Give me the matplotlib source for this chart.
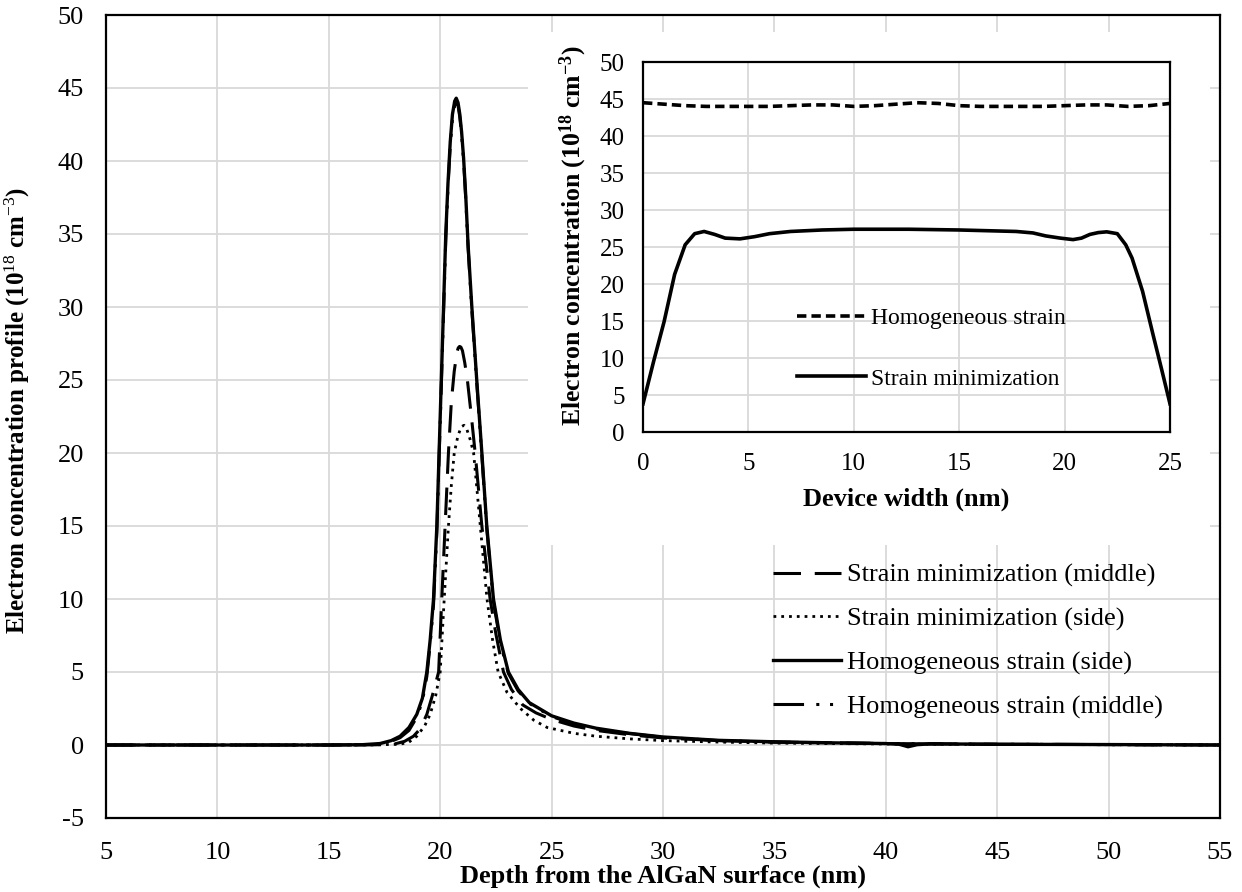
import numpy as np
import matplotlib
matplotlib.use("Agg")
import matplotlib.pyplot as plt

plt.rcParams['font.family'] = ['Liberation Serif', 'DejaVu Serif']
plt.rcParams['mathtext.fontset'] = 'custom'
plt.rcParams['mathtext.rm'] = 'Liberation Serif'
plt.rcParams['mathtext.bf'] = 'Liberation Serif:bold'
plt.rcParams['mathtext.it'] = 'Liberation Serif:italic'
plt.rcParams['axes.unicode_minus'] = False

# Main chart: depth profiles (depth in nm, concentration in 1e18 cm^-3)
depth_sm_mid = [5, 10, 15, 17, 17.9, 18.4, 18.8, 19.1, 19.4, 19.65, 19.93, 20.07, 20.22,
                20.37, 20.5, 20.63, 20.75, 20.81, 20.87, 20.93, 21.0, 21.1, 21.22, 21.4,
                21.57, 21.87, 22.24, 22.5, 22.84, 23.2, 23.7, 24.3, 25, 26, 27, 28.5, 30,
                32.5, 35, 40, 45, 50, 55]
conc_sm_mid = [0, 0, 0, 0.01, 0.05, 0.25, 0.6, 1.1, 2.1, 3.4, 5, 10, 15,
               20, 23.5, 25.6, 26.9, 27.2, 27.3, 27.25, 27.0, 26.2, 25, 22.5,
               20, 15, 10, 7.6, 5, 3.8, 2.75, 2.2, 1.75, 1.3, 1.0, 0.7, 0.48,
               0.3, 0.2, 0.1, 0.05, 0.03, 0]

depth_sm_side = [5, 10, 15, 17, 18.2, 18.6, 18.95, 19.3, 19.55, 19.8, 20.0, 20.18, 20.37,
                 20.5, 20.63, 20.8, 20.95, 21.07, 21.2, 21.35, 21.5, 21.8, 22.1, 22.35,
                 22.6, 23.0, 23.6, 24.2, 24.8, 26, 27, 28.5, 30, 32.5, 35, 40, 45, 50, 55]
conc_sm_side = [0, 0, 0, 0.01, 0.05, 0.2, 0.6, 1.3, 2.1, 3.4, 5, 10, 15,
                17.8, 20, 21.2, 21.8, 21.9, 21.6, 20.9, 20, 15, 10, 7.2,
                5, 3.6, 2.5, 1.7, 1.2, 0.8, 0.6, 0.42, 0.3, 0.2, 0.13, 0.07, 0.04, 0.02, 0]

depth_hs_side = [5, 10, 15, 16.5, 17.3, 17.8, 18.2, 18.6, 18.95, 19.2, 19.4, 19.55, 19.7,
                 19.85, 19.95, 20.05, 20.15, 20.25, 20.35, 20.45, 20.55, 20.65, 20.72,
                 20.8, 20.88, 20.96, 21.05, 21.15, 21.25, 21.42, 21.64, 21.87, 22.09,
                 22.39, 22.7, 23.06, 23.5, 24.0, 25, 26, 27, 28.5, 30, 32.5, 35, 37.5,
                 40, 40.6, 41.0, 41.4, 42, 45, 50, 55]
conc_hs_side = [0, 0, 0, 0.02, 0.1, 0.3, 0.6, 1.2, 2.1, 3.2, 5.0, 7.2, 10,
                15, 20, 25, 30, 35, 38.5, 41.3, 43.2, 44.1, 44.3,
                44.0, 43.2, 42.0, 40.2, 37.5, 34.3, 30, 25, 20, 15,
                10, 7.2, 5.0, 3.8, 2.9, 2.0, 1.5, 1.15, 0.8, 0.55, 0.32, 0.22, 0.15,
                0.1, 0.05, -0.12, 0.02, 0.08, 0.05, 0.03, 0]

depth_hs_mid = [5, 10, 15, 16.5, 17.3, 17.8, 18.2, 18.6, 18.95, 19.2, 19.4, 19.55, 19.7,
                19.85, 19.95, 20.05, 20.15, 20.25, 20.35, 20.45, 20.55, 20.65, 20.72,
                20.8, 20.88, 20.96, 21.05, 21.15, 21.25, 21.42, 21.64, 21.87, 22.09,
                22.39, 22.7, 23.06, 23.5, 24.0, 25, 26, 27, 28.5, 30, 32.5, 35, 40,
                45, 50, 55]
conc_hs_mid = [0, 0, 0, 0.01, 0.08, 0.25, 0.5, 1.0, 1.9, 3.0, 4.7, 6.9, 9.6,
               14.6, 19.6, 24.6, 29.6, 34.6, 38.2, 41.0, 42.9, 43.8, 44.0,
               43.8, 43.0, 41.8, 40.0, 37.3, 34.1, 29.8, 24.8, 19.8, 14.8,
               9.8, 7.0, 4.9, 3.7, 2.85, 1.95, 1.45, 1.1, 0.78, 0.53, 0.3, 0.2, 0.1,
               0.05, 0.03, 0]

# Inset: concentration across device width
width_hom = [0, 1, 2, 3, 4, 5, 6, 7, 8, 9, 10, 11, 12, 13, 14, 15, 16, 17, 18, 19, 20,
             21, 22, 23, 24, 25]
conc_hom = [44.5, 44.3, 44.1, 44.0, 44.0, 44.0, 44.0, 44.1, 44.2, 44.2, 44.0, 44.1, 44.3,
            44.5, 44.4, 44.1, 44.0, 44.0, 44.0, 44.0, 44.1, 44.2, 44.2, 44.0, 44.1, 44.4]

width_min = [0, 0.5, 1.0, 1.5, 2.0, 2.45, 2.9, 3.4, 3.9, 4.6, 5.3, 6.0, 7.0, 8.5, 10,
             12.6, 15, 17.7, 18.5, 19.1, 19.8, 20.4, 20.8, 21.2, 21.6, 22.0, 22.5,
             22.9, 23.2, 23.7, 24.2, 24.6, 25]
conc_min = [3.8, 9.5, 14.9, 21.3, 25.3, 26.8, 27.1, 26.7, 26.2, 26.1, 26.4, 26.8, 27.1,
            27.3, 27.4, 27.4, 27.3, 27.1, 26.9, 26.5, 26.2, 26.0, 26.2, 26.7, 26.95,
            27.05, 26.8, 25.3, 23.5, 19.0, 13.1, 8.5, 3.8]

W, H = 1242, 892
fig = plt.figure(figsize=(W / 100, H / 100), dpi=100)

def rect(x0, y0, x1, y1):
    return [x0 / W, 1 - y1 / H, (x1 - x0) / W, (y1 - y0) / H]

grid_c = '#d9d9d9'

ax = fig.add_axes(rect(106, 15, 1220, 818))
ax.plot(depth_hs_mid, conc_hs_mid, color='black', lw=2.2,
        linestyle=(0, (10, 4, 1, 3.5, 1, 4)), label='Homogeneous strain (middle)', zorder=2)
ax.plot(depth_sm_mid, conc_sm_mid, color='black', lw=2.2,
        linestyle=(0, (9, 4.5)), label='Strain minimization (middle)', zorder=3)
ax.plot(depth_sm_side, conc_sm_side, color='black', lw=2.0,
        linestyle=(0, (1, 1.8)), label='Strain minimization (side)', zorder=3)
ax.plot(depth_hs_side, conc_hs_side, color='black', lw=2.4,
        linestyle='-', label='Homogeneous strain (side)', zorder=4)

ax.set_xlim(5, 55)
ax.set_ylim(-5, 50)
ax.set_xticks(np.arange(5, 56, 5))
ax.set_yticks(np.arange(-5, 51, 5))
ax.grid(True, color=grid_c, lw=1.3)
ax.set_axisbelow(True)
ax.tick_params(length=0, labelsize=19)
ax.tick_params(axis='y', pad=16)
ax.tick_params(axis='x', pad=17)
for s in ax.spines.values():
    s.set_linewidth(1.6)

ax.set_xlabel('Depth from the AlGaN surface (nm)', fontsize=19, fontweight='bold')
ax.xaxis.set_label_coords(0.5, -0.058)
ax.set_ylabel('Electron concentration profile (10$^{18}$ cm$^{-3}$)', fontsize=18,
              fontweight='bold')
ax.yaxis.set_label_coords(-0.066, 0.508)

handles, labels = ax.get_legend_handles_labels()
order = [1, 2, 3, 0]
leg = ax.legend([handles[i] for i in order], [labels[i] for i in order],
                loc='upper left', bbox_to_anchor=(0.589, 0.33), borderaxespad=0,
                frameon=False, fontsize=19, handlelength=2.6, handletextpad=0.2,
                labelspacing=0.75)

# white panel behind the inset
bg = fig.add_axes(rect(528, 32, 1210, 545))
bg.set_facecolor('white')
bg.set_xticks([])
bg.set_yticks([])
for s in bg.spines.values():
    s.set_visible(False)

ins = fig.add_axes(rect(643, 62, 1170, 432))
ins.plot(width_hom, conc_hom, color='black', lw=2.6, linestyle=(0, (2.6, 1.4)),
         label='Homogeneous strain')
ins.plot(width_min, conc_min, color='black', lw=2.6, label='Strain minimization')
ins.set_xlim(0, 25)
ins.set_ylim(0, 50)
ins.set_xticks(np.arange(0, 26, 5))
ins.set_yticks(np.arange(0, 51, 5))
ins.grid(True, color=grid_c, lw=1.3)
ins.set_axisbelow(True)
ins.tick_params(length=0, labelsize=18)
ins.tick_params(axis='y', pad=13)
ins.tick_params(axis='x', pad=15)
for s in ins.spines.values():
    s.set_linewidth(1.6)
ins.set_xlabel('Device width (nm)', fontsize=19, fontweight='bold')
ins.xaxis.set_label_coords(0.5, -0.15)
ins.set_ylabel(r'Electron concentration (10$^{\mathbf{18}}$ cm$^{\mathbf{-3}}$)',
               fontsize=18.5, fontweight='bold')
ins.yaxis.set_label_coords(-0.102, 0.532)
ins.legend(loc='upper left', bbox_to_anchor=(0.275, 0.362), borderaxespad=0,
           frameon=False, fontsize=17, handlelength=2.9, handletextpad=0.2,
           labelspacing=1.65)

fig.savefig('out.png', dpi=100)
